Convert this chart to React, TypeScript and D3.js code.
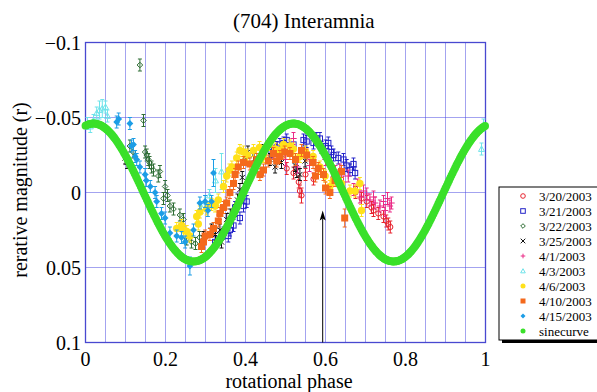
import React from "react";
import * as d3 from "d3";

// [phase, magnitude, errorHalf?]
const d0320: number[][] = [[0.503,-0.016],[0.52,-0.013],[0.533,-0.007],[0.536,-0.001],[0.54,0.002,0.005],[0.55,-0.012],[0.57,-0.009],[0.62,-0.010],[0.64,-0.004],[0.675,0.0],[0.69,0.004],[0.703,0.006],[0.715,0.010],[0.72,0.012],[0.732,0.014],[0.745,0.016],[0.752,0.019],[0.757,0.021],[0.762,0.023]];
const d0321: number[][] = [[0.324,0.033],[0.335,0.031],[0.345,0.027],[0.357,0.029],[0.361,0.025],[0.37,0.022],[0.374,0.010],[0.386,0.017],[0.395,0.009],[0.403,0.006],[0.465,-0.027],[0.478,-0.030],[0.486,-0.032],[0.495,-0.033],[0.503,-0.035],[0.52,-0.032],[0.545,-0.035],[0.553,-0.034],[0.57,-0.033],[0.578,-0.036],[0.586,-0.036],[0.59,-0.030],[0.6,-0.031],[0.607,-0.033],[0.615,-0.027],[0.62,-0.025],[0.632,-0.023],[0.645,-0.022],[0.653,-0.018],[0.661,-0.015],[0.67,-0.019],[0.674,-0.013]];
const d0322: number[][] = [[0.111,-0.031],[0.119,-0.027],[0.136,-0.085],[0.145,-0.048],[0.149,-0.027],[0.153,-0.025],[0.157,-0.022],[0.16,-0.020],[0.165,-0.017],[0.17,-0.015],[0.182,-0.011],[0.186,-0.014],[0.195,0.004],[0.199,-0.004],[0.205,0.002],[0.211,0.009],[0.22,0.011],[0.236,0.015],[0.245,0.018],[0.253,0.031],[0.265,0.033],[0.275,0.034],[0.285,0.030]];
const d0325: number[][] = [[0.099,-0.023],[0.104,-0.020],[0.295,0.030],[0.315,0.025],[0.325,0.028],[0.336,0.025],[0.34,0.033],[0.353,0.018],[0.362,0.015],[0.374,0.012],[0.38,0.005],[0.386,-0.002],[0.392,-0.010],[0.399,-0.024],[0.406,-0.027],[0.42,-0.025],[0.44,-0.028],[0.461,-0.022],[0.474,-0.017],[0.49,-0.020],[0.524,-0.018],[0.528,-0.014],[0.536,-0.012],[0.549,-0.021]];
const d0401: number[][] = [[0.47,-0.027],[0.482,-0.025],[0.5,-0.022],[0.52,-0.036],[0.53,-0.017],[0.56,-0.018],[0.6,-0.022],[0.625,-0.014],[0.636,-0.015],[0.645,-0.007],[0.657,-0.011],[0.67,-0.002],[0.68,-0.005],[0.686,0.003],[0.695,-0.001],[0.703,0.001],[0.711,0.005],[0.72,0.003],[0.724,0.007],[0.736,0.009],[0.745,0.006],[0.749,0.012],[0.755,0.004],[0.761,0.009],[0.765,0.007]];
const d0403: number[][] = [[0.005,-0.046],[0.012,-0.044],[0.02,-0.048],[0.028,-0.053],[0.035,-0.055,0.006],[0.042,-0.056,0.006],[0.05,-0.057],[0.055,-0.051],[0.29,0.010],[0.30,0.006],[0.31,0.002],[0.325,-0.008,0.008],[0.34,-0.014,0.012],[0.99,-0.029],[0.995,-0.045]];
const d0406: number[][] = [[0.228,0.024],[0.24,0.022],[0.245,0.025],[0.253,0.026],[0.261,0.029],[0.278,0.016],[0.282,0.021],[0.286,0.013],[0.303,0.011],[0.315,0.008],[0.324,0.009],[0.332,0.005],[0.345,-0.004],[0.353,-0.011],[0.36,-0.015],[0.366,-0.017],[0.378,-0.023],[0.386,-0.028],[0.395,-0.027],[0.405,-0.025],[0.42,-0.028],[0.435,-0.030],[0.445,-0.024],[0.46,-0.032],[0.475,-0.029],[0.486,-0.028],[0.495,-0.032],[0.511,-0.031],[0.52,-0.029],[0.536,-0.024],[0.55,-0.027],[0.569,-0.024],[0.586,-0.017],[0.599,-0.011],[0.611,-0.004],[0.62,-0.008],[0.628,-0.009],[0.64,-0.006],[0.661,-0.001],[0.674,-0.001],[0.686,-0.006],[0.69,0.012]];
const d0410: number[][] = [[0.29,0.036],[0.295,0.033],[0.299,0.029],[0.311,0.028],[0.32,0.024],[0.332,0.019],[0.336,0.014],[0.345,0.010],[0.353,0.007],[0.361,0.0],[0.37,-0.006],[0.374,-0.012],[0.382,-0.017],[0.395,-0.020],[0.411,-0.019],[0.428,-0.022],[0.436,-0.012],[0.445,-0.015],[0.457,-0.021],[0.47,-0.026],[0.478,-0.021],[0.486,-0.024],[0.498,-0.027],[0.511,-0.026],[0.525,-0.022],[0.54,-0.028],[0.553,-0.025],[0.569,-0.020],[0.575,-0.011],[0.582,-0.016],[0.595,-0.012],[0.6,-0.003],[0.611,0.0],[0.624,-0.008],[0.64,-0.014],[0.648,0.017,0.006]];
const d0415: number[][] = [[0.078,-0.047],[0.083,-0.049],[0.111,-0.046],[0.115,-0.031],[0.12,-0.032],[0.124,-0.024],[0.128,-0.022],[0.136,-0.017],[0.149,-0.012],[0.152,-0.008],[0.162,-0.004],[0.174,0.0],[0.178,0.006],[0.19,0.014],[0.199,0.017],[0.211,0.027],[0.228,0.029],[0.24,0.030],[0.249,0.033],[0.261,0.049,0.006],[0.27,0.025],[0.286,0.007],[0.299,0.006],[0.306,0.012],[0.315,0.006],[0.32,-0.013,0.009]];

// sine model parameters
const sineAmplitude = 0.046;
const sinePeriod = 0.5;
const sinePeakPhase = 0.02;
const sinePhases = d3.range(0, 1.0001, 0.003);

const xTicks = [0, 0.2, 0.4, 0.6, 0.8, 1];
const xTickLabels = ["0", "0.2", "0.4", "0.6", "0.8", "1"];
const yTicks = [-0.1, -0.05, 0, 0.05, 0.1];
const yTickLabels = ["\u22120.1", "\u22120.05", "0", "0.05", "0.1"];
const arrowPhase = 0.593;
const arrowTipMag = 0.012;

const legendLabels = ["3/20/2003","3/21/2003","3/22/2003","3/25/2003","4/1/2003","4/3/2003","4/6/2003","4/10/2003","4/15/2003","sinecurve"];

type Style = { color: string; shape: string; size: number; filled: boolean };
const styles: Style[] = [
  { color: "#e8232f", shape: "circle", size: 2.6, filled: false },
  { color: "#2323c8", shape: "square", size: 2.6, filled: false },
  { color: "#2f6e35", shape: "diamond", size: 2.8, filled: false },
  { color: "#111111", shape: "x", size: 2.6, filled: false },
  { color: "#ea2a86", shape: "plus", size: 3.2, filled: false },
  { color: "#6fe3ea", shape: "triangle", size: 3, filled: false },
  { color: "#ffe11a", shape: "circle", size: 3.7, filled: true },
  { color: "#f4691c", shape: "square", size: 3.5, filled: true },
  { color: "#1c9de6", shape: "diamond", size: 3.4, filled: true },
  { color: "#3ae02a", shape: "circle", size: 3.9, filled: true },
];
const seriesData = [d0320, d0321, d0322, d0325, d0401, d0403, d0406, d0410, d0415];

const x = d3.scaleLinear().domain([0, 1]).range([85.5, 485.5]);
const y = d3.scaleLinear().domain([-0.1, 0.1]).range([42.5, 342.5]);

const FONT = "'Liberation Serif', 'Times New Roman', Times, serif";

function Marker({ cx, cy, st, s }: { cx: number; cy: number; st: Style; s?: number }) {
  const r = s ?? st.size;
  const fill = st.filled ? st.color : "none";
  const sw = st.filled ? 0 : 1;
  switch (st.shape) {
    case "circle":
      return <circle cx={cx} cy={cy} r={r} fill={fill} stroke={st.color} strokeWidth={sw} />;
    case "square":
      return <rect x={cx - r} y={cy - r} width={2 * r} height={2 * r} fill={fill} stroke={st.color} strokeWidth={sw} />;
    case "diamond":
      return <path d={`M${cx},${cy - r}L${cx + r},${cy}L${cx},${cy + r}L${cx - r},${cy}Z`} fill={fill} stroke={st.color} strokeWidth={sw} />;
    case "triangle":
      return <path d={`M${cx},${cy - r}L${cx + r},${cy + r * 0.8}L${cx - r},${cy + r * 0.8}Z`} fill={fill} stroke={st.color} strokeWidth={sw} />;
    case "x":
      return <path d={`M${cx - r},${cy - r}L${cx + r},${cy + r}M${cx - r},${cy + r}L${cx + r},${cy - r}`} stroke={st.color} strokeWidth={1} fill="none" />;
    case "plus":
      return <path d={`M${cx - r},${cy}L${cx + r},${cy}M${cx},${cy - r}L${cx},${cy + r}`} stroke={st.color} strokeWidth={1} fill="none" />;
  }
  return null;
}

export default function App() {
  const sinePts = sinePhases.map((p) => [p, -sineAmplitude * Math.cos((2 * Math.PI * (p - sinePeakPhase)) / sinePeriod)]);
  const gridX = d3.range(0.05, 1, 0.05);
  const gridY = [-0.05, 0, 0.05];
  const legX = 499, legY = 187;
  const ts = { fontFamily: FONT };
  return (
    <svg width={597} height={392} style={{ position: "absolute", left: 0, top: 0, background: "#fff" }}>
      <rect x={0} y={0} width={597} height={392} fill="#fff" />
      <text x={233} y={28} fontSize={21} style={ts}>(704) Interamnia</text>
      {/* grid */}
      {gridX.map((g, i) => (
        <line key={"gx" + i} x1={x(g)} x2={x(g)} y1={y(-0.1)} y2={y(0.1)} stroke="#4646e0" strokeWidth={1} strokeDasharray="1,1" />
      ))}
      {gridY.map((g, i) => (
        <line key={"gy" + i} x1={x(0)} x2={x(1)} y1={y(g)} y2={y(g)} stroke="#4646e0" strokeWidth={1} strokeDasharray="1,1" />
      ))}
      <rect x={x(0)} y={y(-0.1)} width={x(1) - x(0)} height={y(0.1) - y(-0.1)} fill="none" stroke="#4848d0" strokeWidth={1.3} />
      {/* ticks */}
      {xTicks.map((t, i) => (
        <text key={"xt" + i} x={x(t)} y={366} fontSize={20} textAnchor="middle" style={ts}>{xTickLabels[i]}</text>
      ))}
      {yTicks.map((t, i) => (
        <text key={"yt" + i} x={81} y={y(t) + 7} fontSize={20} textAnchor="end" style={ts}>{yTickLabels[i]}</text>
      ))}
      <text x={289} y={388} fontSize={20} textAnchor="middle" style={ts}>rotational phase</text>
      <text transform={`translate(27,190) rotate(-90)`} fontSize={20} textAnchor="middle" style={ts}>rerative magnitude (r)</text>
      {/* data series */}
      {seriesData.map((data, si) => {
        const st = styles[si];
        return (
          <g key={"s" + si}>
            {data.map((d, j) => {
              const e = d[2] ?? 0.004;
              const cx = x(d[0]);
              return (
                <g key={j}>
                  <path d={`M${cx},${y(d[1] - e)}L${cx},${y(d[1] + e)}M${cx - 2},${y(d[1] - e)}L${cx + 2},${y(d[1] - e)}M${cx - 2},${y(d[1] + e)}L${cx + 2},${y(d[1] + e)}`} stroke={st.color} strokeWidth={1} fill="none" />
                  <Marker cx={cx} cy={y(d[1])} st={st} />
                </g>
              );
            })}
          </g>
        );
      })}
      {/* sine curve */}
      <g>
        {sinePts.map((p, i) => (
          <circle key={"sc" + i} cx={x(p[0])} cy={y(p[1])} r={styles[9].size} fill={styles[9].color} />
        ))}
      </g>
      {/* arrow */}
      <line x1={x(arrowPhase)} x2={x(arrowPhase)} y1={y(0.1)} y2={y(arrowTipMag) + 8} stroke="#000" strokeWidth={1} />
      <path d={`M${x(arrowPhase)},${y(arrowTipMag)}L${x(arrowPhase) + 3},${y(arrowTipMag) + 10}L${x(arrowPhase)},${y(arrowTipMag) + 8}L${x(arrowPhase) - 3},${y(arrowTipMag) + 10}Z`} fill="#000" />
      {/* legend */}
      <rect x={legX + 3} y={legY + 3} width={120} height={153} fill="#000" />
      <rect x={legX} y={legY} width={120} height={153} fill="#fff" stroke="#000" strokeWidth={1} />
      {legendLabels.map((lab, i) => {
        const st = styles[i];
        const ly = legY + 9 + i * 15;
        return (
          <g key={"lg" + i}>
            <Marker cx={523} cy={ly} st={st} s={st.filled ? 2.5 : 2.3} />
            <text x={539} y={ly + 4.5} fontSize={13} style={ts}>{lab}</text>
          </g>
        );
      })}
    </svg>
  );
}
